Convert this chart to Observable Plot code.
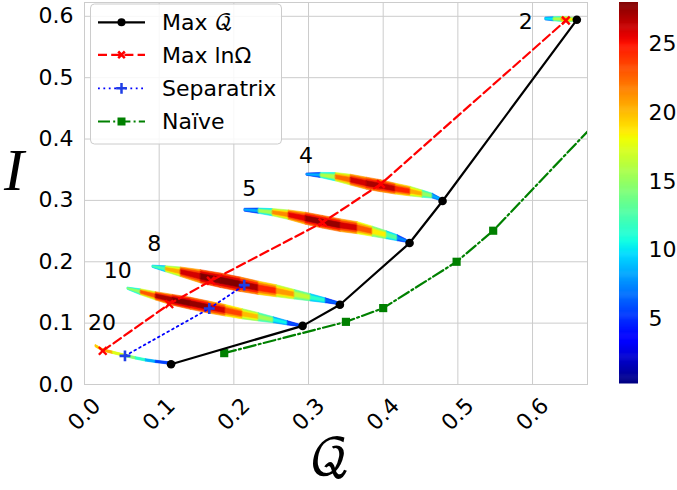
<!DOCTYPE html>
<html><head><meta charset="utf-8">
<script src="https://cdn.jsdelivr.net/npm/d3@7"></script>
<script src="https://cdn.jsdelivr.net/npm/@observablehq/plot@0.6"></script>
<style>
body{margin:0;background:#fff}
#wrap{position:relative;width:677px;height:490px;font-family:"DejaVu Sans",sans-serif}
#wrap svg{position:absolute}
</style></head><body><div id="wrap"></div>
<script>
// ---------- data ----------
const xTicks = [0.0, 0.1, 0.2, 0.3, 0.4, 0.5, 0.6];
const yTicks = [0.0, 0.1, 0.2, 0.3, 0.4, 0.5, 0.6];
const cTicks = [5, 10, 15, 20, 25];

// Max Q (black, circles)
const maxQ_Q = [0.1159, 0.2921, 0.3420, 0.4353, 0.4795, 0.6593];
const maxQ_I = [0.0331, 0.0956, 0.1299, 0.2305, 0.2990, 0.5943];
// Max ln Omega (red, x)
const maxOm_Q = [0.0244, 0.1135, 0.1693, 0.3189, 0.3969, 0.6446];
const maxOm_I = [0.0548, 0.1310, 0.1690, 0.2641, 0.3268, 0.5932];
// Separatrix (blue, +)
const sep_Q = [0.0542, 0.1671, 0.2139];
const sep_I = [0.0467, 0.1238, 0.1620];
// Naive (green, squares)
const naive_Q = [0.1871, 0.3501, 0.4000, 0.4983, 0.5473, 0.75];
const naive_I = [0.0511, 0.1021, 0.1245, 0.2000, 0.2506, 0.51];

// N labels
const labelText = ["2", "4", "5", "8", "10", "20"];
const labelQ = [0.591, 0.2965, 0.2206, 0.0934, 0.0444, 0.0234];
const labelI = [0.5915, 0.3729, 0.3186, 0.2288, 0.1853, 0.1005];

// bands: [Q, I, half-thickness (I units), edge value, core value]
const band2 = [
  [0.6178, 0.5956, 0.0024, 5, 7], [0.6285, 0.5951, 0.0033, 9, 13], [0.6392, 0.5948, 0.0041, 14, 19],
  [0.6486, 0.5943, 0.0041, 17, 23], [0.6580, 0.5940, 0.0024, 10, 14]
];
const band4 = [
  [0.2979, 0.3419, 0.0018, 3, 5], [0.3166, 0.3406, 0.0042, 7, 12], [0.3367, 0.3378, 0.0068, 14, 20],
  [0.3568, 0.3330, 0.0088, 20, 25], [0.3782, 0.3272, 0.0098, 22, 27], [0.3969, 0.3232, 0.0098, 22, 27],
  [0.4170, 0.3183, 0.0088, 21, 26], [0.4371, 0.3142, 0.0078, 18, 23], [0.4531, 0.3101, 0.0059, 14, 18],
  [0.4665, 0.3069, 0.0040, 9, 12], [0.4772, 0.3013, 0.0024, 4, 5]
];
const band5 = [
  [0.2149, 0.2840, 0.0024, 3, 5], [0.2336, 0.2824, 0.0043, 7, 12], [0.2523, 0.2799, 0.0059, 13, 19],
  [0.2738, 0.2759, 0.0078, 19, 24], [0.2965, 0.2701, 0.0098, 22, 27], [0.3193, 0.2644, 0.0103, 23, 28],
  [0.3434, 0.2587, 0.0103, 22, 27], [0.3661, 0.2547, 0.0098, 20, 25], [0.3862, 0.2489, 0.0083, 16, 21],
  [0.4050, 0.2432, 0.0065, 12, 16], [0.4197, 0.2383, 0.0049, 7, 10], [0.4317, 0.2334, 0.0025, 3, 5]
];
const band8 = [
  [0.0917, 0.1918, 0.0019, 5, 8], [0.1091, 0.1878, 0.0049, 12, 17], [0.1292, 0.1829, 0.0078, 19, 24],
  [0.1560, 0.1755, 0.0108, 23, 28], [0.1827, 0.1690, 0.0118, 24, 28], [0.2095, 0.1625, 0.0118, 23, 28],
  [0.2336, 0.1568, 0.0108, 21, 26], [0.2577, 0.1519, 0.0098, 18, 23], [0.2818, 0.1462, 0.0078, 15, 19],
  [0.3032, 0.1413, 0.0059, 11, 14], [0.3233, 0.1364, 0.0040, 7, 9], [0.3394, 0.1320, 0.0024, 3, 4]
];
const band10 = [
  [0.0582, 0.1560, 0.0019, 7, 10], [0.0756, 0.1502, 0.0049, 14, 20], [0.0957, 0.1437, 0.0068, 20, 26],
  [0.1185, 0.1372, 0.0088, 23, 28], [0.1426, 0.1315, 0.0098, 23, 28], [0.1667, 0.1254, 0.0098, 22, 27],
  [0.1894, 0.1201, 0.0094, 20, 25], [0.2122, 0.1144, 0.0083, 17, 22], [0.2336, 0.1095, 0.0068, 14, 18],
  [0.2537, 0.1046, 0.0049, 10, 13], [0.2724, 0.0997, 0.0035, 6, 8], [0.2885, 0.0956, 0.0019, 3, 4]
];
const band20 = [
  [0.0154, 0.0622, 0.0020, 17, 17], [0.0248, 0.0556, 0.0020, 22, 22], [0.0382, 0.0516, 0.0020, 19, 19],
  [0.0542, 0.0467, 0.0020, 16, 16], [0.0689, 0.0426, 0.0020, 13, 13], [0.0823, 0.0393, 0.0020, 10, 10],
  [0.0957, 0.0369, 0.0020, 7, 7], [0.1131, 0.0344, 0.0020, 4, 4]
];

// ---------- colour (jet) ----------
const cLo = 0.3, cHi = 28;
const jetT = [0, 0.11, 0.125, 0.34, 0.35, 0.375, 0.64, 0.65, 0.66, 0.89, 0.91, 1];
const jetC = ["#000080","#0000ff","#0000ff","#00dbff","#00e5f7","#15ffe2","#eeff08","#f7f600","#ffec00","#ff1300","#e80000","#800000"];
const colorScale = {type: "linear", domain: jetT.map(t => cLo + t * (cHi - cLo)), range: jetC, interpolate: "rgb"};

// ---------- build tables ----------
const pts = (Q, I) => Q.map((q, i) => ({q, i: I[i]}));
const bandRows = [];
const layers = [
  {k: 1.0, val: r => r[3]},
  {k: 0.72, val: r => (r[3] + r[4]) / 2},
  {k: 0.42, val: r => r[4]}
];
[band2, band4, band5, band8, band10, band20].forEach((b, bi) => {
  layers.forEach((L, li) => {
    for (let j = 0; j < b.length - 1; j++) {
      const v = (L.val(b[j]) + L.val(b[j + 1])) / 2;
      const z = bi + "-" + li + "-" + j;
      [b[j], b[j + 1]].forEach(r => bandRows.push({q: r[0], lo: r[1] - L.k * r[2], hi: r[1] + L.k * r[2], v, z}));
    }
  });
});
const labels = labelText.map((t, k) => ({t, q: labelQ[k], i: labelI[k]}));

const FONT = "DejaVu Sans";
const wrap = document.getElementById("wrap");

const main = Plot.plot({
  width: 677, height: 490,
  marginLeft: 84, marginRight: 90, marginTop: 2, marginBottom: 106,
  style: {fontFamily: FONT, fontSize: "22px", color: "#000", background: "transparent", overflow: "visible"},
  x: {domain: [0, 0.6736]},
  y: {domain: [0, 0.6225]},
  color: colorScale,
  marks: [
    Plot.gridX(xTicks.slice(1), {stroke: "#cccccc", strokeOpacity: 1, strokeWidth: 1}),
    Plot.gridY(yTicks.slice(1), {stroke: "#cccccc", strokeOpacity: 1, strokeWidth: 1}),
    Plot.frame({stroke: "#cccccc"}),
    Plot.area(bandRows, {x1: "q", y1: "lo", y2: "hi", z: "z", fill: "v", stroke: "v", strokeWidth: 0.6}),
    Plot.line(pts(naive_Q, naive_I), {x: "q", y: "i", stroke: "green", strokeWidth: 2.2, strokeDasharray: "12,3.2,2,3.2", clip: true}),
    Plot.dot(pts(naive_Q, naive_I), {x: "q", y: "i", symbol: "square", r: 4.6, fill: "green", clip: true}),
    Plot.line(pts(sep_Q, sep_I), {x: "q", y: "i", stroke: "blue", strokeWidth: 1.8, strokeDasharray: "1.8,3.6"}),
    Plot.dot(pts(sep_Q, sep_I), {x: "q", y: "i", symbol: "plus", r: 3.6, stroke: "#1f3fe6", strokeWidth: 2.6}),
    Plot.line(pts(maxOm_Q, maxOm_I), {x: "q", y: "i", stroke: "red", strokeWidth: 2.2, strokeDasharray: "9,4.2"}),
    Plot.dot(pts(maxOm_Q, maxOm_I), {x: "q", y: "i", symbol: "times", r: 3.6, stroke: "red", strokeWidth: 2.4}),
    Plot.line(pts(maxQ_Q, maxQ_I), {x: "q", y: "i", stroke: "black", strokeWidth: 2.2}),
    Plot.dot(pts(maxQ_Q, maxQ_I), {x: "q", y: "i", r: 4.3, fill: "black"}),
    Plot.text(labels, {x: "q", y: "i", text: "t", fontSize: 22, fill: "black"}),
    Plot.axisX({ticks: xTicks, tickFormat: d3.format(".1f"), tickSize: 0, tickRotate: -45, textAnchor: "middle", lineAnchor: "middle", tickPadding: 30, fontSize: 22, label: null}),
    Plot.axisY({ticks: yTicks, tickFormat: d3.format(".1f"), tickSize: 0, tickPadding: 11, fontSize: 22, label: null})
  ]
});
main.style.left = "0px"; main.style.top = "0px";
wrap.appendChild(main);

// colour bar (legend of the colour scale)
const nSlices = 400;
const cbRows = d3.range(nSlices).map(k => {
  const a = cLo + (cHi - cLo) * k / nSlices, b = Math.min(cHi, cLo + (cHi - cLo) * (k + 1.6) / nSlices);
  return {a, b, m: (a + b) / 2};
});
const cbar = Plot.plot({
  width: 60, height: 381.5,
  marginLeft: 0, marginRight: 41, marginTop: 0, marginBottom: 0,
  style: {fontFamily: FONT, fontSize: "22px", color: "#000", background: "transparent", overflow: "visible"},
  x: {domain: [0, 1], axis: null},
  y: {domain: [cLo, cHi]},
  color: colorScale,
  marks: [
    Plot.rect(cbRows, {x1: () => 0, x2: () => 1, y1: "a", y2: "b", fill: "m"}),
    Plot.axisY({anchor: "right", ticks: cTicks, tickSize: 0, tickPadding: 10, fontSize: 22, label: null})
  ]
});
cbar.style.left = "619px"; cbar.style.top = "2px";
wrap.appendChild(cbar);

// overlay: axis titles and legend
const ov = d3.create("svg").attr("width", 677).attr("height", 490)
  .style("left", "0px").style("top", "0px").style("font-family", FONT);
ov.append("text").attr("x", 330).attr("y", 462).attr("text-anchor", "middle").attr("dominant-baseline", "middle")
  .style("font-size", "50px").style("font-family", "'DejaVu Math TeX Gyre','DejaVu Serif',serif").text("𝒬");
ov.append("text").attr("x", 14).attr("y", 176).attr("text-anchor", "middle").attr("dominant-baseline", "middle")
  .style("font-size", "60px").style("font-style", "italic").style("font-family", "'Liberation Serif','DejaVu Serif',serif").text("I");

const lg = ov.append("g");
lg.append("rect").attr("x", 90.5).attr("y", 4).attr("width", 191).attr("height", 140).attr("rx", 4)
  .attr("fill", "white").attr("fill-opacity", 0.85).attr("stroke", "#cccccc");
const entries = [
  {y: 22.3, c: "black", w: 2.2, dash: null, sym: "circle", label: ["Max ", "𝒬"]},
  {y: 54.8, c: "red", w: 2.2, dash: "9,4.2", sym: "times", label: ["Max lnΩ"]},
  {y: 88.3, c: "blue", w: 1.8, dash: "1.8,3.6", sym: "plus", label: ["Separatrix"]},
  {y: 121.5, c: "green", w: 2.2, dash: "12,3.2,2,3.2", sym: "square", label: ["Naïve"]}
];
entries.forEach(e => {
  const g = lg.append("g");
  const ln = g.append("line").attr("x1", 98).attr("x2", 145).attr("y1", e.y).attr("y2", e.y)
    .attr("stroke", e.c).attr("stroke-width", e.w);
  if (e.dash) ln.attr("stroke-dasharray", e.dash);
  const sym = {circle: d3.symbolCircle, times: d3.symbolTimes, plus: d3.symbolPlus, square: d3.symbolSquare}[e.sym];
  const sz = {circle: 52, times: 30, plus: 40, square: 64}[e.sym];
  const p = g.append("path").attr("d", d3.symbol(sym, sz)()).attr("transform", `translate(121.5,${e.y})`);
  if (e.sym === "circle" || e.sym === "square") p.attr("fill", e.c);
  else p.attr("fill", "none").attr("stroke", e.sym === "plus" ? "#1f3fe6" : e.c).attr("stroke-width", 2.5);
  const t = g.append("text").attr("x", 162).attr("y", e.y).attr("dy", "0.36em").style("font-size", "22px");
  t.append("tspan").text(e.label[0]);
  if (e.label[1]) t.append("tspan").style("font-family", "'DejaVu Math TeX Gyre','DejaVu Serif',serif").style("font-size", "22px").text(e.label[1]);
});
wrap.appendChild(ov.node());
</script></body></html>
